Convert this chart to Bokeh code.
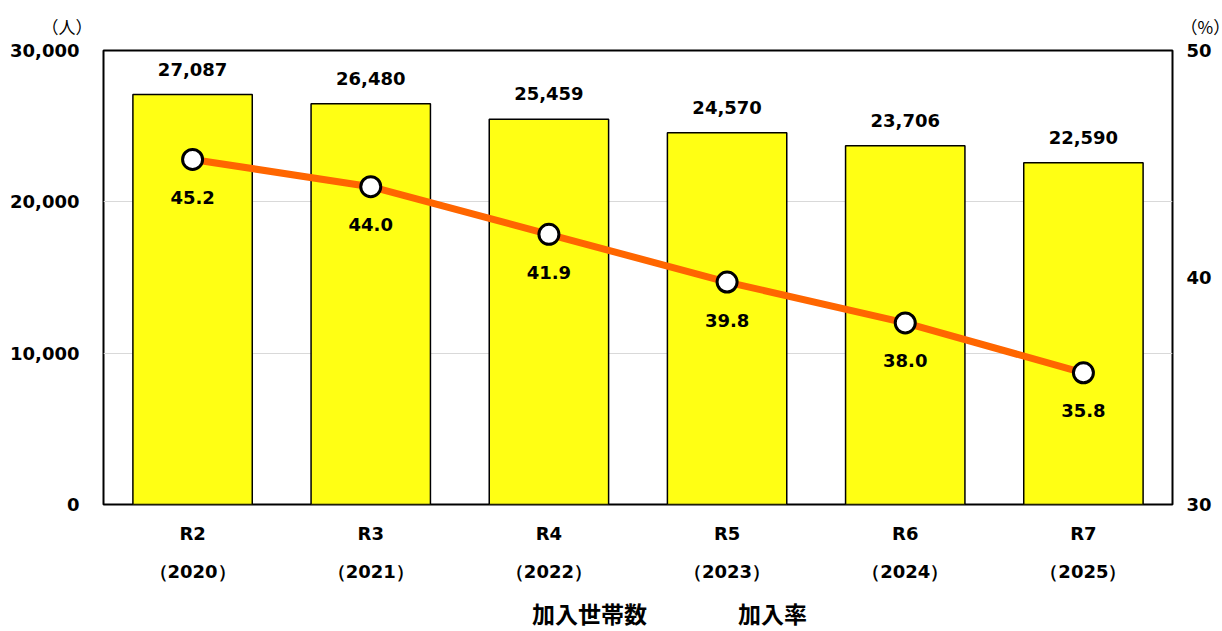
from bokeh.plotting import figure
from bokeh.layouts import column
from bokeh.models import Range1d, LinearAxis, CategoricalAxis, Legend, LegendItem, Title, FixedTicker, NumeralTickFormatter, ColumnDataSource, FactorRange, CDSView, IndexFilter
from bokeh.core.properties import value
from bokeh.embed import file_html
from bokeh.resources import INLINE

categories = ["R2", "R3", "R4", "R5", "R6", "R7"]
years = ["2020", "2021", "2022", "2023", "2024", "2025"]
households = [27087, 26480, 25459, 24570, 23706, 22590]
rates = [45.2, 44.0, 41.9, 39.8, 38.0, 35.8]
unit_left = "（人）"
unit_right = "（%）"
series_names = ["加入世帯数", "加入率"]

NUM = "DejaVu Sans"
JP = "Noto Sans CJK JP"
FS = "18px"
BAR_FILL = "#FFFF14"
LINE_COLOR = "#FF6600"

src = ColumnDataSource(dict(
    x=categories, hh=households, rate=rates,
    hh_lbl=[f"{v:,}" for v in households],
    rate_lbl=[f"{v:.1f}" for v in rates],
))

p = figure(x_range=FactorRange(factors=categories, range_padding=0), y_range=Range1d(0, 30000),
           frame_width=1069, frame_height=454,
           output_backend="svg", toolbar_location=None,
           min_border_left=103, min_border_right=50, min_border_top=50, min_border_bottom=0)
p.extra_y_ranges = {"rate": Range1d(30, 50)}
p.extra_x_ranges = {"yr": FactorRange(factors=[f"（{y}）" for y in years], range_padding=0)}

p.outline_line_color = "black"
p.outline_line_width = 2
p.xgrid.grid_line_color = None
p.ygrid.grid_line_color = "#D9D9D9"
p.ygrid.grid_line_width = 1
p.ygrid.ticker = FixedTicker(ticks=[0, 10000, 20000, 30000])

p.vbar(x="x", top="hh", width=0.67, source=src, fill_color=BAR_FILL,
       line_color="black", line_width=1.5)
p.line(x="x", y="rate", source=src, y_range_name="rate", line_color=LINE_COLOR, line_width=7)
p.scatter(x="x", y="rate", source=src, y_range_name="rate", size=20,
          fill_color="white", line_color="black", line_width=3)

p.text(x="x", y="hh", text="hh_lbl", source=src, text_align="center", text_baseline="bottom",
       y_offset=-19, text_font=value(NUM), text_font_style="bold", text_font_size=FS, text_color="black")
p.text(x="x", y="rate", text="rate_lbl", source=src, y_range_name="rate", text_align="center",
       text_baseline="middle", y_offset=38, text_font=value(NUM), text_font_style="bold",
       text_font_size=FS, text_color="black")

def style_axis(ax, font, standoff):
    ax.axis_line_color = None
    ax.major_tick_line_color = None
    ax.minor_tick_line_color = None
    ax.major_label_text_font = font
    ax.major_label_text_font_style = "bold"
    ax.major_label_text_font_size = FS
    ax.major_label_text_color = "black"
    ax.major_label_standoff = standoff

la = p.yaxis[0]
la.ticker = FixedTicker(ticks=[0, 10000, 20000, 30000])
la.formatter = NumeralTickFormatter(format="0,0")
style_axis(la, NUM, 18)

ra = LinearAxis(y_range_name="rate", ticker=FixedTicker(ticks=[30, 40, 50]))
style_axis(ra, NUM, 8)
p.add_layout(ra, "right")

xa = p.xaxis[0]
style_axis(xa, NUM, 12)

xa2 = CategoricalAxis(x_range_name="yr")
style_axis(xa2, NUM, 8)
p.add_layout(xa2, "below")

units = Title(text=unit_left + "\u3000" * 65 + unit_right, align="left", offset=-62,
              text_font=JP, text_font_size="17px", text_font_style="normal",
              text_color="black", standoff=23)
p.add_layout(units, "above")

# legend strip: same data source, with a view that draws no points, so only the legend swatches show
lg = figure(width=1222, height=46, x_range=FactorRange(factors=categories, range_padding=0),
            y_range=Range1d(-2, -1), output_backend="svg", toolbar_location=None, min_border=0)
lg.axis.visible = False
lg.grid.visible = False
lg.outline_line_color = None
none_view = CDSView(filter=IndexFilter(indices=[]))
lb = lg.vbar(x="x", top="hh", width=0.67, source=src, view=none_view,
             fill_color=BAR_FILL, line_color="black", line_width=1.5)
ll = lg.line(x="x", y="rate", source=src, view=CDSView(filter=IndexFilter(indices=[])),
             line_color=LINE_COLOR, line_width=7)
lp = lg.scatter(x="x", y="rate", source=src, view=CDSView(filter=IndexFilter(indices=[])),
                size=20, fill_color="white", line_color="black", line_width=3)
legend = Legend(items=[LegendItem(label=series_names[0], renderers=[lb]),
                       LegendItem(label=series_names[1], renderers=[ll, lp])],
                orientation="horizontal", location="bottom_center", border_line_color=None,
                background_fill_alpha=0,
                label_text_font=JP, label_text_font_style="bold", label_text_font_size="23px",
                label_text_color="black", label_standoff=6,
                glyph_width=58, glyph_height=15, spacing=27, padding=0, margin=0)
lg.add_layout(legend, "center")

open("out.html", "w").write(file_html(column(p, lg, spacing=0), INLINE))
